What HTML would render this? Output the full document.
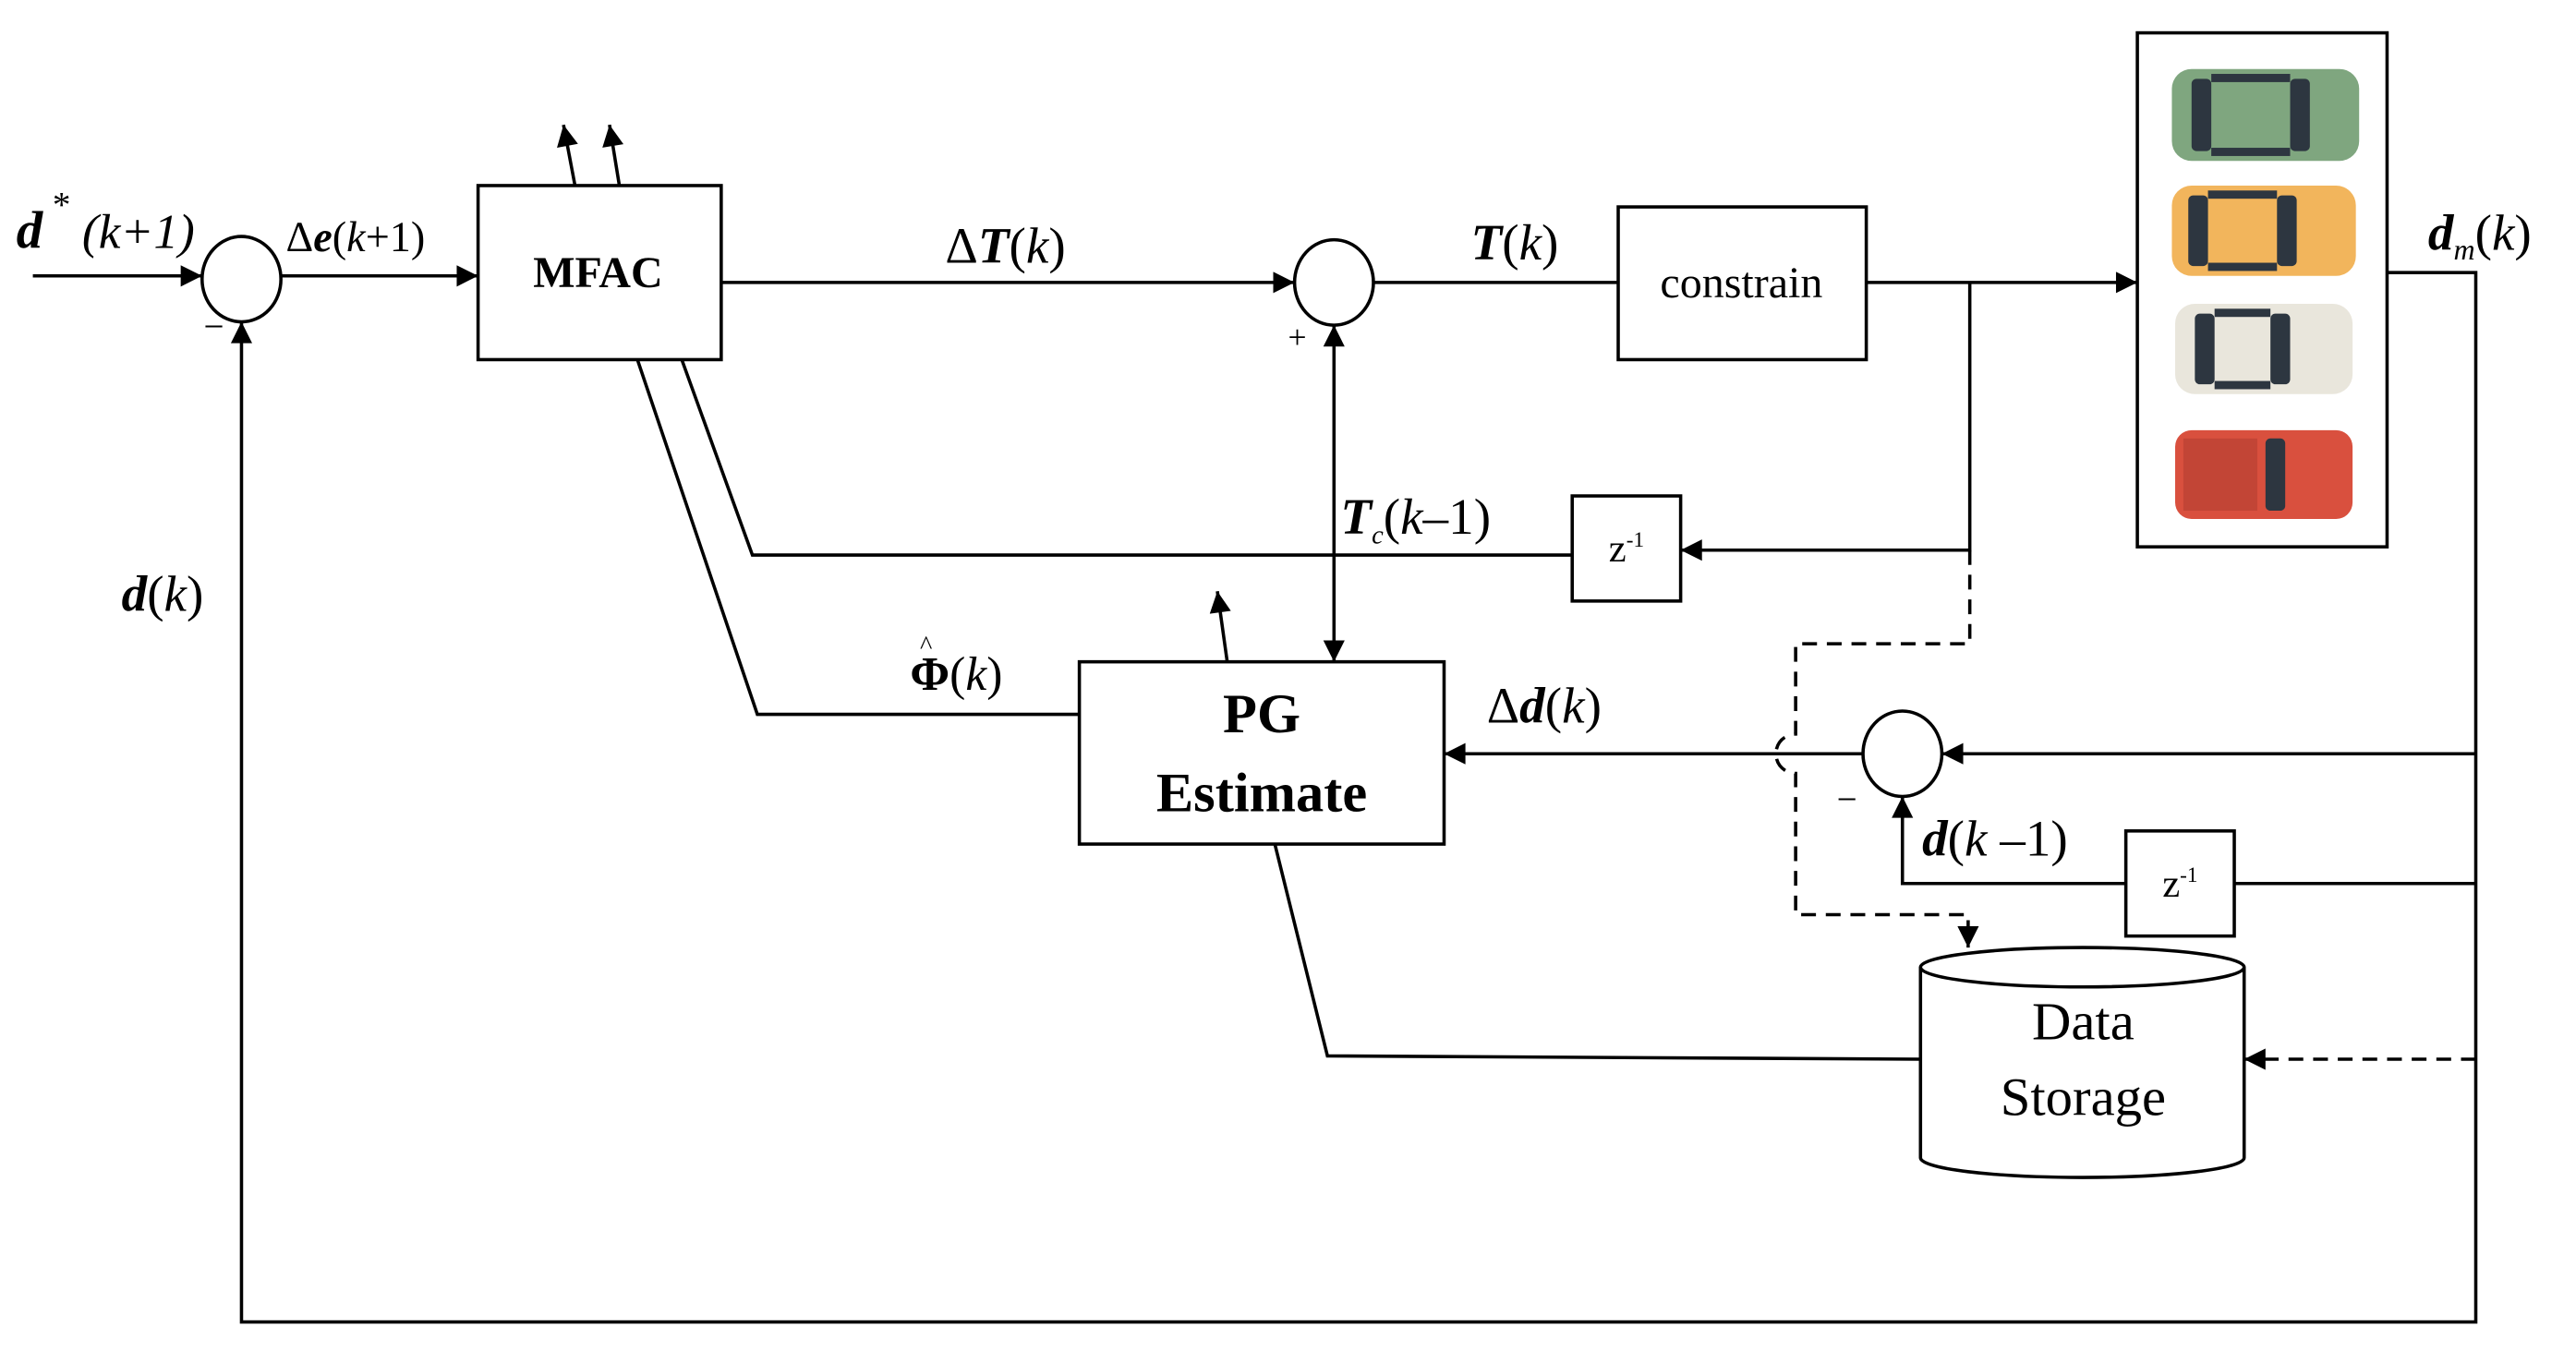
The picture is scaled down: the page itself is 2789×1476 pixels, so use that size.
<!DOCTYPE html>
<html><head><meta charset="utf-8"><style>
html,body{margin:0;padding:0;background:#fff;}
svg{display:block;}
text{font-family:"Liberation Serif",serif;fill:#000;}
.it{font-style:italic;}
.b{font-weight:bold;}
</style></head><body>
<svg width="2789" height="1476" viewBox="0 0 1568 830" preserveAspectRatio="none" xmlns="http://www.w3.org/2000/svg">
<defs>
<marker id="a" viewBox="0 0 10 10" refX="10" refY="5" markerWidth="19" markerHeight="13" markerUnits="userSpaceOnUse" orient="auto"><path d="M0,0 L10,5 L0,10 z" fill="#000"/></marker>
</defs>
<g stroke="#000" stroke-width="2" fill="none">
<line x1="20" y1="168" x2="123" y2="168" marker-end="url(#a)"/>
<ellipse cx="147" cy="170" rx="24" ry="26" fill="#fff"/>
<line x1="171" y1="168" x2="291" y2="168" marker-end="url(#a)"/>
<rect x="291" y="113" width="148" height="106" fill="#fff"/>
<line x1="350" y1="113" x2="343" y2="76" marker-end="url(#a)"/>
<line x1="377" y1="113" x2="371" y2="76" marker-end="url(#a)"/>
<line x1="439" y1="172" x2="788" y2="172" marker-end="url(#a)"/>
<ellipse cx="812" cy="172" rx="24" ry="26" fill="#fff"/>
<line x1="836" y1="172" x2="985" y2="172"/>
<rect x="985" y="126" width="151" height="93" fill="#fff"/>
<line x1="1136" y1="172" x2="1301" y2="172" marker-end="url(#a)"/>
<rect x="1301" y="20" width="152" height="313" fill="#fff"/>
<polyline points="1453,166 1507,166 1507,805 147,805 147,196" marker-end="url(#a)"/>
<polyline points="1199,172 1199,335 1023,335" marker-end="url(#a)"/>
<rect x="957" y="302" width="66" height="64" fill="#fff"/>
<polyline points="957,338 458,338 415,219"/>
<polyline points="388,219 461,435 657,435"/>
<line x1="812" y1="300" x2="812" y2="198" marker-end="url(#a)"/>
<line x1="812" y1="300" x2="812" y2="403" marker-end="url(#a)"/>
<rect x="657" y="403" width="222" height="111" fill="#fff"/>
<line x1="747" y1="403" x2="741" y2="360" marker-end="url(#a)"/>
<line x1="1507" y1="459" x2="1182" y2="459" marker-end="url(#a)"/>
<ellipse cx="1158" cy="459" rx="24" ry="26" fill="#fff"/>
<line x1="1134" y1="459" x2="879" y2="459" marker-end="url(#a)"/>
<polyline points="1507,538 1360,538"/>
<rect x="1294" y="506" width="66" height="64" fill="#fff"/>
<polyline points="1294,538 1158,538 1158,485" marker-end="url(#a)"/>
<path d="M1199,335 L1199,392 L1093,392 L1093,447 A12,12 0 0 0 1093,471 L1093,557 L1198,557 L1198,577" stroke-dasharray="9,6" marker-end="url(#a)"/>
<line x1="1507" y1="645" x2="1366" y2="645" stroke-dasharray="9,6" marker-end="url(#a)"/>
<path d="M1169,589 L1169,705 A98.5,12 0 0 0 1366,705 L1366,589" fill="#fff"/>
<ellipse cx="1267.5" cy="589" rx="98.5" ry="12" fill="#fff"/>
<polyline points="1169,645 808,643 776,514"/>
</g>
<g>
<g transform="translate(1322,42)"><rect x="0" y="0" width="114" height="56" rx="12" fill="#7fa67f"/><rect x="12" y="6" width="12" height="44" rx="3" fill="#2d3640"/><rect x="72" y="6" width="12" height="44" rx="3" fill="#2d3640"/><rect x="24" y="3" width="48" height="5" fill="#2d3640"/><rect x="24" y="48" width="48" height="5" fill="#2d3640"/></g>
<g transform="translate(1322,113)"><rect x="0" y="0" width="112" height="55" rx="12" fill="#f2b55c"/><rect x="10" y="6" width="12" height="43" rx="3" fill="#2d3640"/><rect x="64" y="6" width="12" height="43" rx="3" fill="#2d3640"/><rect x="22" y="3" width="42" height="5" fill="#2d3640"/><rect x="22" y="47" width="42" height="5" fill="#2d3640"/></g>
<g transform="translate(1324,185)"><rect x="0" y="0" width="108" height="55" rx="12" fill="#e9e6dc"/><rect x="12" y="6" width="12" height="43" rx="3" fill="#2d3640"/><rect x="58" y="6" width="12" height="43" rx="3" fill="#2d3640"/><rect x="24" y="3" width="34" height="5" fill="#2d3640"/><rect x="24" y="47" width="34" height="5" fill="#2d3640"/></g>
<g transform="translate(1324,262)"><rect x="0" y="0" width="108" height="54" rx="10" fill="#d9503e"/><rect x="5" y="5" width="45" height="44" fill="#c24536"/><rect x="55" y="5" width="12" height="44" rx="3" fill="#2d3640"/></g>
</g>
<text x="10" y="151" font-size="32" class="it b">d</text><text x="32" y="132" font-size="22">*</text><text x="50" y="151" font-size="30" class="it">(k+1)</text>
<text x="124" y="206" font-size="22">−</text>
<text x="174" y="153" font-size="26"><tspan>Δ</tspan><tspan class="it b">e</tspan><tspan>(</tspan><tspan class="it">k</tspan><tspan>+1)</tspan></text>
<text x="364" y="175" font-size="27" class="b" text-anchor="middle">MFAC</text>
<text x="612" y="160" font-size="31" text-anchor="middle"><tspan>Δ</tspan><tspan class="it b">T</tspan><tspan>(</tspan><tspan class="it">k</tspan><tspan>)</tspan></text>
<text x="784" y="212" font-size="20">+</text>
<text x="922" y="158" font-size="31" text-anchor="middle"><tspan class="it b">T</tspan><tspan>(</tspan><tspan class="it">k</tspan><tspan>)</tspan></text>
<text x="1060" y="181" font-size="27" text-anchor="middle">constrain</text>
<text x="1478" y="152" font-size="31"><tspan class="it b">d</tspan><tspan class="it" font-size="18" dy="6">m</tspan><tspan dy="-6">(</tspan><tspan class="it">k</tspan><tspan>)</tspan></text>
<text x="74" y="372" font-size="31"><tspan class="it b">d</tspan><tspan>(</tspan><tspan class="it">k</tspan><tspan>)</tspan></text>
<text x="816" y="325" font-size="31"><tspan class="it b">T</tspan><tspan class="it" font-size="16" dy="6">c</tspan><tspan dy="-6">(</tspan><tspan class="it">k</tspan><tspan>–1)</tspan></text>
<text x="990" y="342" font-size="24" text-anchor="middle">z<tspan font-size="13" dy="-9">-1</tspan></text>
<text x="1327" y="546" font-size="24" text-anchor="middle">z<tspan font-size="13" dy="-9">-1</tspan></text>
<text x="554" y="420" font-size="29"><tspan class="b">Φ</tspan><tspan>(</tspan><tspan class="it">k</tspan><tspan>)</tspan></text>
<text x="560" y="398" font-size="16">^</text>
<text x="768" y="446" font-size="34" class="b" text-anchor="middle">PG</text>
<text x="768" y="494" font-size="34" class="b" text-anchor="middle">Estimate</text>
<text x="905" y="440" font-size="31"><tspan>Δ</tspan><tspan class="it b">d</tspan><tspan>(</tspan><tspan class="it">k</tspan><tspan>)</tspan></text>
<text x="1118" y="494" font-size="22">−</text>
<text x="1170" y="521" font-size="31"><tspan class="it b">d</tspan><tspan>(</tspan><tspan class="it">k</tspan><tspan> –1)</tspan></text>
<text x="1268" y="633" font-size="33" text-anchor="middle">Data</text>
<text x="1268" y="679" font-size="33" text-anchor="middle">Storage</text>
</svg>
</body></html>
